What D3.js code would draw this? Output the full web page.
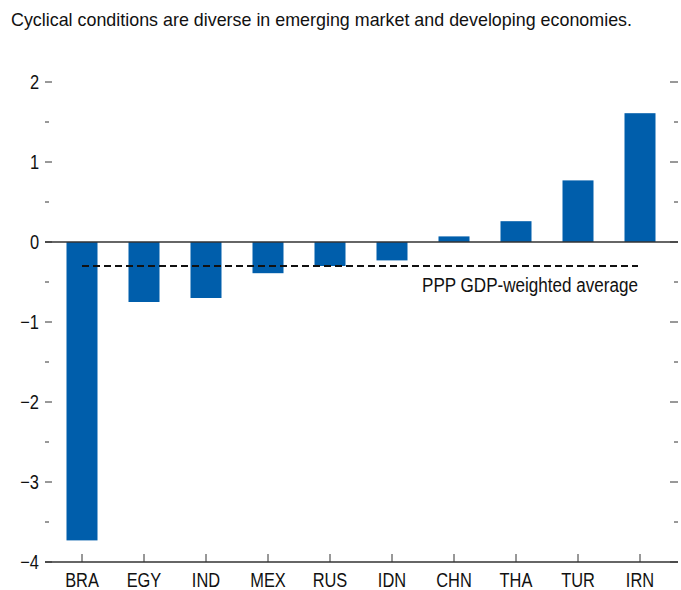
<!DOCTYPE html>
<html>
<head>
<meta charset="utf-8">
<script src="https://cdn.jsdelivr.net/npm/d3@7"></script>
<style>
  body { margin: 0; background: #fff; }
  text { font-family: "Liberation Sans", Arial, sans-serif; fill: #111; }
</style>
</head>
<body>
<svg class="visSVG"></svg>
<script>
const svgWidth = 681;
const svgHeight = 590;

// data
const countries = ["BRA", "EGY", "IND", "MEX", "RUS", "IDN", "CHN", "THA", "TUR", "IRN"];
const values = [-3.73, -0.75, -0.70, -0.39, -0.30, -0.23, 0.07, 0.26, 0.77, 1.61];
const weightedAvg = -0.30;
const majorTicks = [2, 1, 0, -1, -2, -3, -4];
const minorTicks = [1.5, 0.5, -0.5, -1.5, -2.5, -3.5];

const title = "Cyclical conditions are diverse in emerging market and developing economies.";
const avgLabel = "PPP GDP-weighted average";

const svg = d3.select('.visSVG')
    .attr("width", svgWidth)
    .attr("height", svgHeight);

var axisLeftX = 45;   // where the axis lines start
var axisRightX = 678; // where they end
var narrow = 0.82;    // squeeze text to look like a condensed face

const yScale = d3.scaleLinear()
    .domain([-4, 2])
    .range([562, 82]);

const xScale = d3.scaleBand()
    .domain(countries)
    .range([51, 671])
    .paddingInner(0.5)
    .paddingOuter(0.25);

const blue = "#005eab";
const axisColor = "#333";

// title
svg.append("text")
    .attr("class", "fixed")
    .attr("x", 11)
    .attr("y", 26)
    .attr("textLength", 621)
    .attr("lengthAdjust", "spacingAndGlyphs")
    .style("font-size", "19px")
    .text(title);

// left ticks and labels
var left = svg.append("g");
left.selectAll(".major")
    .data(majorTicks).enter().append("line")
        .attr("x1", axisLeftX).attr("x2", axisLeftX + 7)
        .attr("y1", d => yScale(d)).attr("y2", d => yScale(d))
        .attr("stroke", axisColor).attr("stroke-width", 1);
left.selectAll(".minor")
    .data(minorTicks).enter().append("line")
        .attr("x1", axisLeftX).attr("x2", axisLeftX + 4)
        .attr("y1", d => yScale(d)).attr("y2", d => yScale(d))
        .attr("stroke", axisColor).attr("stroke-width", 1);
left.selectAll("text")
    .data(majorTicks).enter().append("text")
        .attr("x", 39)
        .attr("y", d => yScale(d))
        .attr("dy", "0.36em")
        .attr("text-anchor", "end")
        .style("font-size", "20px")
        .text(d => d < 0 ? "\u2212" + Math.abs(d) : d);

// right ticks, no labels
var right = svg.append("g");
right.selectAll(".major")
    .data(majorTicks).enter().append("line")
        .attr("x1", axisRightX - 8).attr("x2", axisRightX)
        .attr("y1", d => yScale(d)).attr("y2", d => yScale(d))
        .attr("stroke", axisColor).attr("stroke-width", 1);
right.selectAll(".minor")
    .data(minorTicks).enter().append("line")
        .attr("x1", axisRightX - 4).attr("x2", axisRightX)
        .attr("y1", d => yScale(d)).attr("y2", d => yScale(d))
        .attr("stroke", axisColor).attr("stroke-width", 1);

// bars
svg.append("g")
    .selectAll("rect")
    .data(countries).enter().append("rect")
        .attr("x", d => xScale(d))
        .attr("width", xScale.bandwidth())
        .attr("y", (d, i) => yScale(Math.max(0, values[i])))
        .attr("height", (d, i) => Math.abs(yScale(values[i]) - yScale(0)))
        .attr("fill", blue);

// zero line
svg.append("line")
    .attr("x1", axisLeftX).attr("x2", axisRightX)
    .attr("y1", yScale(0)).attr("y2", yScale(0))
    .attr("stroke", axisColor).attr("stroke-width", 1.3);

// bottom axis
svg.append("line")
    .attr("x1", axisLeftX).attr("x2", axisRightX)
    .attr("y1", yScale(-4)).attr("y2", yScale(-4))
    .attr("stroke", axisColor).attr("stroke-width", 1.3);

var bottom = svg.append("g");
bottom.selectAll("line")
    .data(countries).enter().append("line")
        .attr("x1", d => xScale(d) + xScale.bandwidth() / 2)
        .attr("x2", d => xScale(d) + xScale.bandwidth() / 2)
        .attr("y1", yScale(-4)).attr("y2", yScale(-4) - 8)
        .attr("stroke", axisColor).attr("stroke-width", 1);
bottom.selectAll("text")
    .data(countries).enter().append("text")
        .attr("x", d => xScale(d) + xScale.bandwidth() / 2)
        .attr("y", 587)
        .attr("text-anchor", "middle")
        .style("font-size", "20px")
        .text(d => d);

// weighted average dashed line, from first to last bar centre
var avgX1 = xScale(countries[0]) + xScale.bandwidth() / 2;
var avgX2 = xScale(countries[countries.length - 1]) + xScale.bandwidth() / 2 - 2;
svg.append("line")
    .attr("x1", avgX1).attr("x2", avgX2)
    .attr("y1", yScale(weightedAvg)).attr("y2", yScale(weightedAvg))
    .attr("stroke", "#111")
    .attr("stroke-width", 2.2)
    .attr("stroke-dasharray", "7,4");

svg.append("text")
    .attr("class", "fixed")
    .attr("x", avgX2)
    .attr("y", 292)
    .attr("text-anchor", "end")
    .attr("textLength", 216)
    .attr("lengthAdjust", "spacingAndGlyphs")
    .style("font-size", "20px")
    .text(avgLabel);

// condense the remaining labels
svg.selectAll("text:not(.fixed)").each(function() {
    var w = this.getComputedTextLength();
    d3.select(this)
        .attr("textLength", w * narrow)
        .attr("lengthAdjust", "spacingAndGlyphs");
});
</script>
</body>
</html>
